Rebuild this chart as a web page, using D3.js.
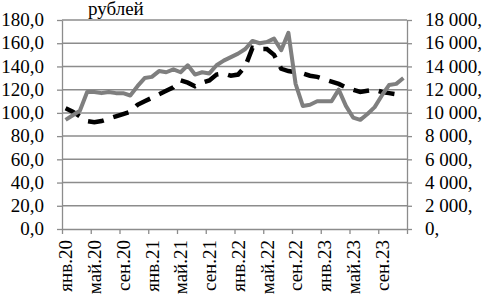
<!DOCTYPE html>
<html>
<head>
<meta charset="utf-8">
<script src="https://cdn.jsdelivr.net/npm/d3@7"></script>
<style>
  body { margin: 0; background: #fff; }
  svg text { font-family: "Liberation Serif", "Times New Roman", serif; font-size: 19px; fill: #000; }
  .grid line { stroke: #8c8c8c; stroke-width: 1.5; }
  .axis path, .axis line { stroke: #8c8c8c; stroke-width: 1.3; }
</style>
</head>
<body>
<script>
// months jan.20 .. dec.23
var monthNames = ['янв','фев','мар','апр','май','июн','июл','авг','сен','окт','ноя','дек'];
var years = ['20','21','22','23'];
var months = [];
years.forEach(function(y){ monthNames.forEach(function(m){ months.push(m + '.' + y); }); });

// solid grey line, left axis (руб.)
var priceSeries = [94, 98, 102, 118, 118, 117, 118, 117, 117, 115, 123, 130,
                   131, 136, 135, 137.5, 135, 141, 133, 135, 134, 141, 145, 148,
                   151, 155, 162, 160, 161, 164, 154, 169, 125, 106, 107, 110,
                   110, 110, 120, 106, 96, 94, 99, 105, 115, 124, 125, 130];
// dashed black line, right axis
var volumeSeries = [10400, 10100, 9700, 9300, 9200, 9300, 9500, 9700, 9900, 10100, 10700, 11000,
                    11300, 11600, 11900, 12200, 12800, 12600, 12300, 12600, 12800, 13300, 13400, 13200,
                    13300, 14000, 15600, 15500, 15500, 15000, 13800, 13600, 13500, 13400, 13200, 13100,
                    12900, 12700, 12500, 12200, 12000, 11800, 11900, 12000, 11800, 11700, 11600, 11500];

var leftTicks = [0, 20, 40, 60, 80, 100, 120, 140, 160, 180];
var rightTicks = [0, 2000, 4000, 6000, 8000, 10000, 12000, 14000, 16000, 18000];
var shownLabels = months.filter(function(d, i){ return i % 4 === 0; });
var title = 'рублей';

var W = 487, H = 301;
var pL = 62, pR = 407, pT = 20, pB = 229;

var svg = d3.select('body').append('svg').attr('width', W).attr('height', H);

var xBand = d3.scaleBand().domain(months).range([pL, pR]).padding(0);
var xIdx = d3.scaleLinear().domain([0, months.length]).range([pL, pR]);
var yL = d3.scaleLinear().domain([0, 180]).range([pB, pT]);
var yR = d3.scaleLinear().domain([0, 18000]).range([pB, pT]);

var fmtL = function(d){ return d3.format('.1f')(d).replace('.', ','); };
var fmtR = function(d){ return d3.format(',')(d).replace(/,/g, ' ') + ','; };

// grid
svg.append('g').attr('class', 'grid')
  .selectAll('line').data(leftTicks.slice(1)).enter().append('line')
  .attr('x1', pL).attr('x2', pR)
  .attr('y1', function(d){ return yL(d); }).attr('y2', function(d){ return yL(d); });

// axes
var gl = svg.append('g').attr('class', 'axis').attr('transform', 'translate(' + pL + ',0)')
  .call(d3.axisLeft(yL).tickValues(leftTicks).tickFormat(fmtL).tickSize(5).tickSizeOuter(0).tickPadding(13));
var gr = svg.append('g').attr('class', 'axis').attr('transform', 'translate(' + pR + ',0)')
  .call(d3.axisRight(yR).tickValues(rightTicks).tickFormat(fmtR).tickSize(5).tickSizeOuter(0).tickPadding(13));
svg.append('g').attr('class', 'axis').attr('transform', 'translate(0,' + pB + ')')
  .call(d3.axisBottom(xIdx).tickValues(d3.range(0, months.length + 1, 4)).tickFormat('').tickSize(5).tickSizeOuter(0));
var gb = svg.append('g').attr('class', 'axis').attr('transform', 'translate(0,' + pB + ')')
  .call(d3.axisBottom(xBand).tickValues(shownLabels).tickSize(0));
gb.select('.domain').remove();
gb.selectAll('text')
  .attr('transform', 'rotate(-90)')
  .attr('x', -11).attr('y', 0).attr('dy', '0.35em')
  .style('text-anchor', 'end');
svg.selectAll('.axis').attr('font-family', null).attr('font-size', null);
svg.selectAll('.axis text').attr('fill', '#000');
gl.selectAll('text').attr('dy', '0.3em');
gr.selectAll('text').attr('dy', '0.3em');

// lines
var cx = function(i){ return xBand(months[i]) + xBand.bandwidth() / 2; };
svg.append('path').datum(volumeSeries)
  .attr('fill', 'none').attr('stroke', '#000').attr('stroke-width', 4.5)
  .attr('stroke-dasharray', '16,10')
  .attr('d', d3.line().x(function(d, i){ return cx(i); }).y(function(d){ return yR(d); }));
svg.append('path').datum(priceSeries)
  .attr('fill', 'none').attr('stroke', '#7f7f7f').attr('stroke-width', 4)
  .attr('stroke-linejoin', 'round')
  .attr('d', d3.line().x(function(d, i){ return cx(i); }).y(function(d){ return yL(d); }));

svg.append('text').attr('x', 88).attr('y', 15).text(title);
</script>
</body>
</html>
